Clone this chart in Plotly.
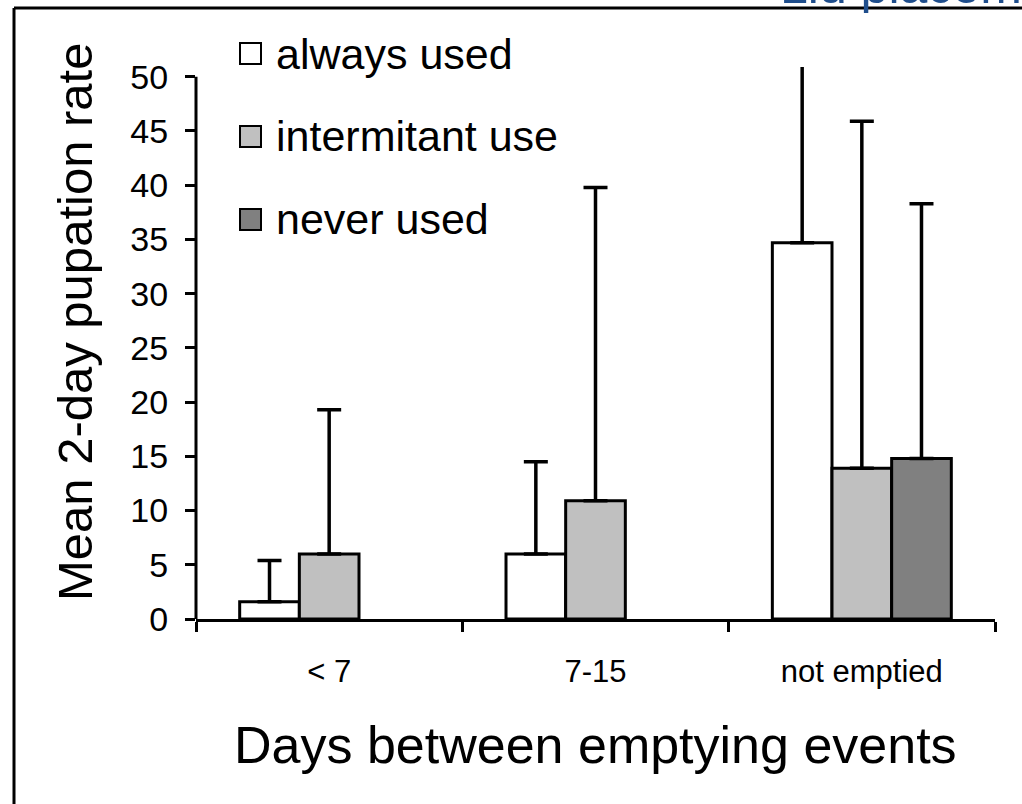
import plotly.graph_objects as go

categories = ["< 7", "7-15", "not emptied"]
series_names = ["always used", "intermitant use", "never used"]
always_used = [1.6, 6.0, 34.7]
always_used_err = [3.8, 8.5, 16.6]
intermittent_use = [6.0, 10.9, 13.9]
intermittent_use_err = [13.3, 28.9, 32.0]
never_used = [None, None, 14.8]
never_used_err = [None, None, 23.5]
y_ticks = [0, 5, 10, 15, 20, 25, 30, 35, 40, 45, 50]
colors = ["#FFFFFF", "#C0C0C0", "#808080"]

W, H = 1022, 804
L, R, T, B = 196, 27, 67, 185
pw, ph = W - L - R, H - T - B


def px_x(px):
    return (px - L) / pw


def px_y(py):
    return (H - B - py) / ph


fig = go.Figure()
for name, vals, errs, col in zip(series_names,
                                 [always_used, intermittent_use, never_used],
                                 [always_used_err, intermittent_use_err, never_used_err],
                                 colors):
    fig.add_trace(go.Bar(
        x=categories, y=vals, name=name,
        marker=dict(color=col, line=dict(color="black", width=3)),
        error_y=dict(type="data", array=errs, symmetric=False, arrayminus=[0, 0, 0],
                     color="black", thickness=3.5, width=12),
        showlegend=False,
    ))

font_family = "Liberation Sans, Arial, sans-serif"

fig.update_layout(
    width=W, height=H,
    margin=dict(l=L, r=R, t=T, b=B, pad=0),
    paper_bgcolor="white", plot_bgcolor="white",
    barmode="group", bargap=0.328, bargroupgap=0,
    font=dict(family=font_family, color="black"),
    xaxis=dict(
        type="category", range=[-0.5, 2.5], showline=True, linecolor="black", linewidth=3,
        ticks="outside", tickson="boundaries", ticklen=10, tickwidth=3, tickcolor="black",
        tickfont=dict(size=31, family=font_family, color="black"),
        showgrid=False, zeroline=False, ticklabelstandoff=23,
    ),
    yaxis=dict(
        range=[0, 50.9], showline=False, tickvals=y_ticks, ticks="outside", ticklen=10,
        tickwidth=3, tickcolor="black", tickfont=dict(size=34, family=font_family, color="black"),
        showgrid=False, zeroline=False, ticklabelstandoff=10,
    ),
)

shapes = []
# y axis line (only up to the 50 tick)
shapes.append(dict(type="line", xref="paper", yref="y", x0=0, x1=0, y0=0, y1=y_ticks[-1],
                   line=dict(color="black", width=3)))
# outer frame (left and top edges)
shapes.append(dict(type="line", xref="paper", yref="paper", x0=px_x(14), x1=px_x(14),
                   y0=px_y(8), y1=px_y(820), line=dict(color="black", width=3)))
shapes.append(dict(type="line", xref="paper", yref="paper", x0=px_x(14), x1=px_x(1040),
                   y0=px_y(8), y1=px_y(8), line=dict(color="black", width=3)))

annotations = []
# manual legend
leg_y = [53.5, 136.5, 219.5]
for name, col, cy in zip(series_names, colors, leg_y):
    shapes.append(dict(type="rect", xref="paper", yref="paper",
                       x0=px_x(240), x1=px_x(261), y0=px_y(cy - 10.5), y1=px_y(cy + 10.5),
                       fillcolor=col, line=dict(color="black", width=2)))
    annotations.append(dict(text=name, xref="paper", yref="paper", x=px_x(274), y=px_y(cy),
                            xanchor="left", yanchor="middle", showarrow=False,
                            font=dict(size=43, family=font_family, color="black")))

# axis titles
annotations.append(dict(text="Days between emptying events", xref="paper", yref="paper",
                        x=px_x(595), y=px_y(745), xanchor="center", yanchor="middle",
                        showarrow=False, font=dict(size=52, family=font_family, color="black")))
annotations.append(dict(text="Mean 2-day pupation rate", xref="paper", yref="paper",
                        x=px_x(75), y=px_y(322), xanchor="center", yanchor="middle",
                        textangle=-90, showarrow=False,
                        font=dict(size=49, family=font_family, color="black")))
# partially visible heading at top right
annotations.append(dict(text="Lid placement", xref="paper", yref="paper",
                        x=px_x(778), y=px_y(16), xanchor="left", yanchor="bottom",
                        showarrow=False, font=dict(size=50, family=font_family, color="#1F4E8C")))

fig.update_layout(shapes=shapes, annotations=annotations)

fig.write_html("out.html")
